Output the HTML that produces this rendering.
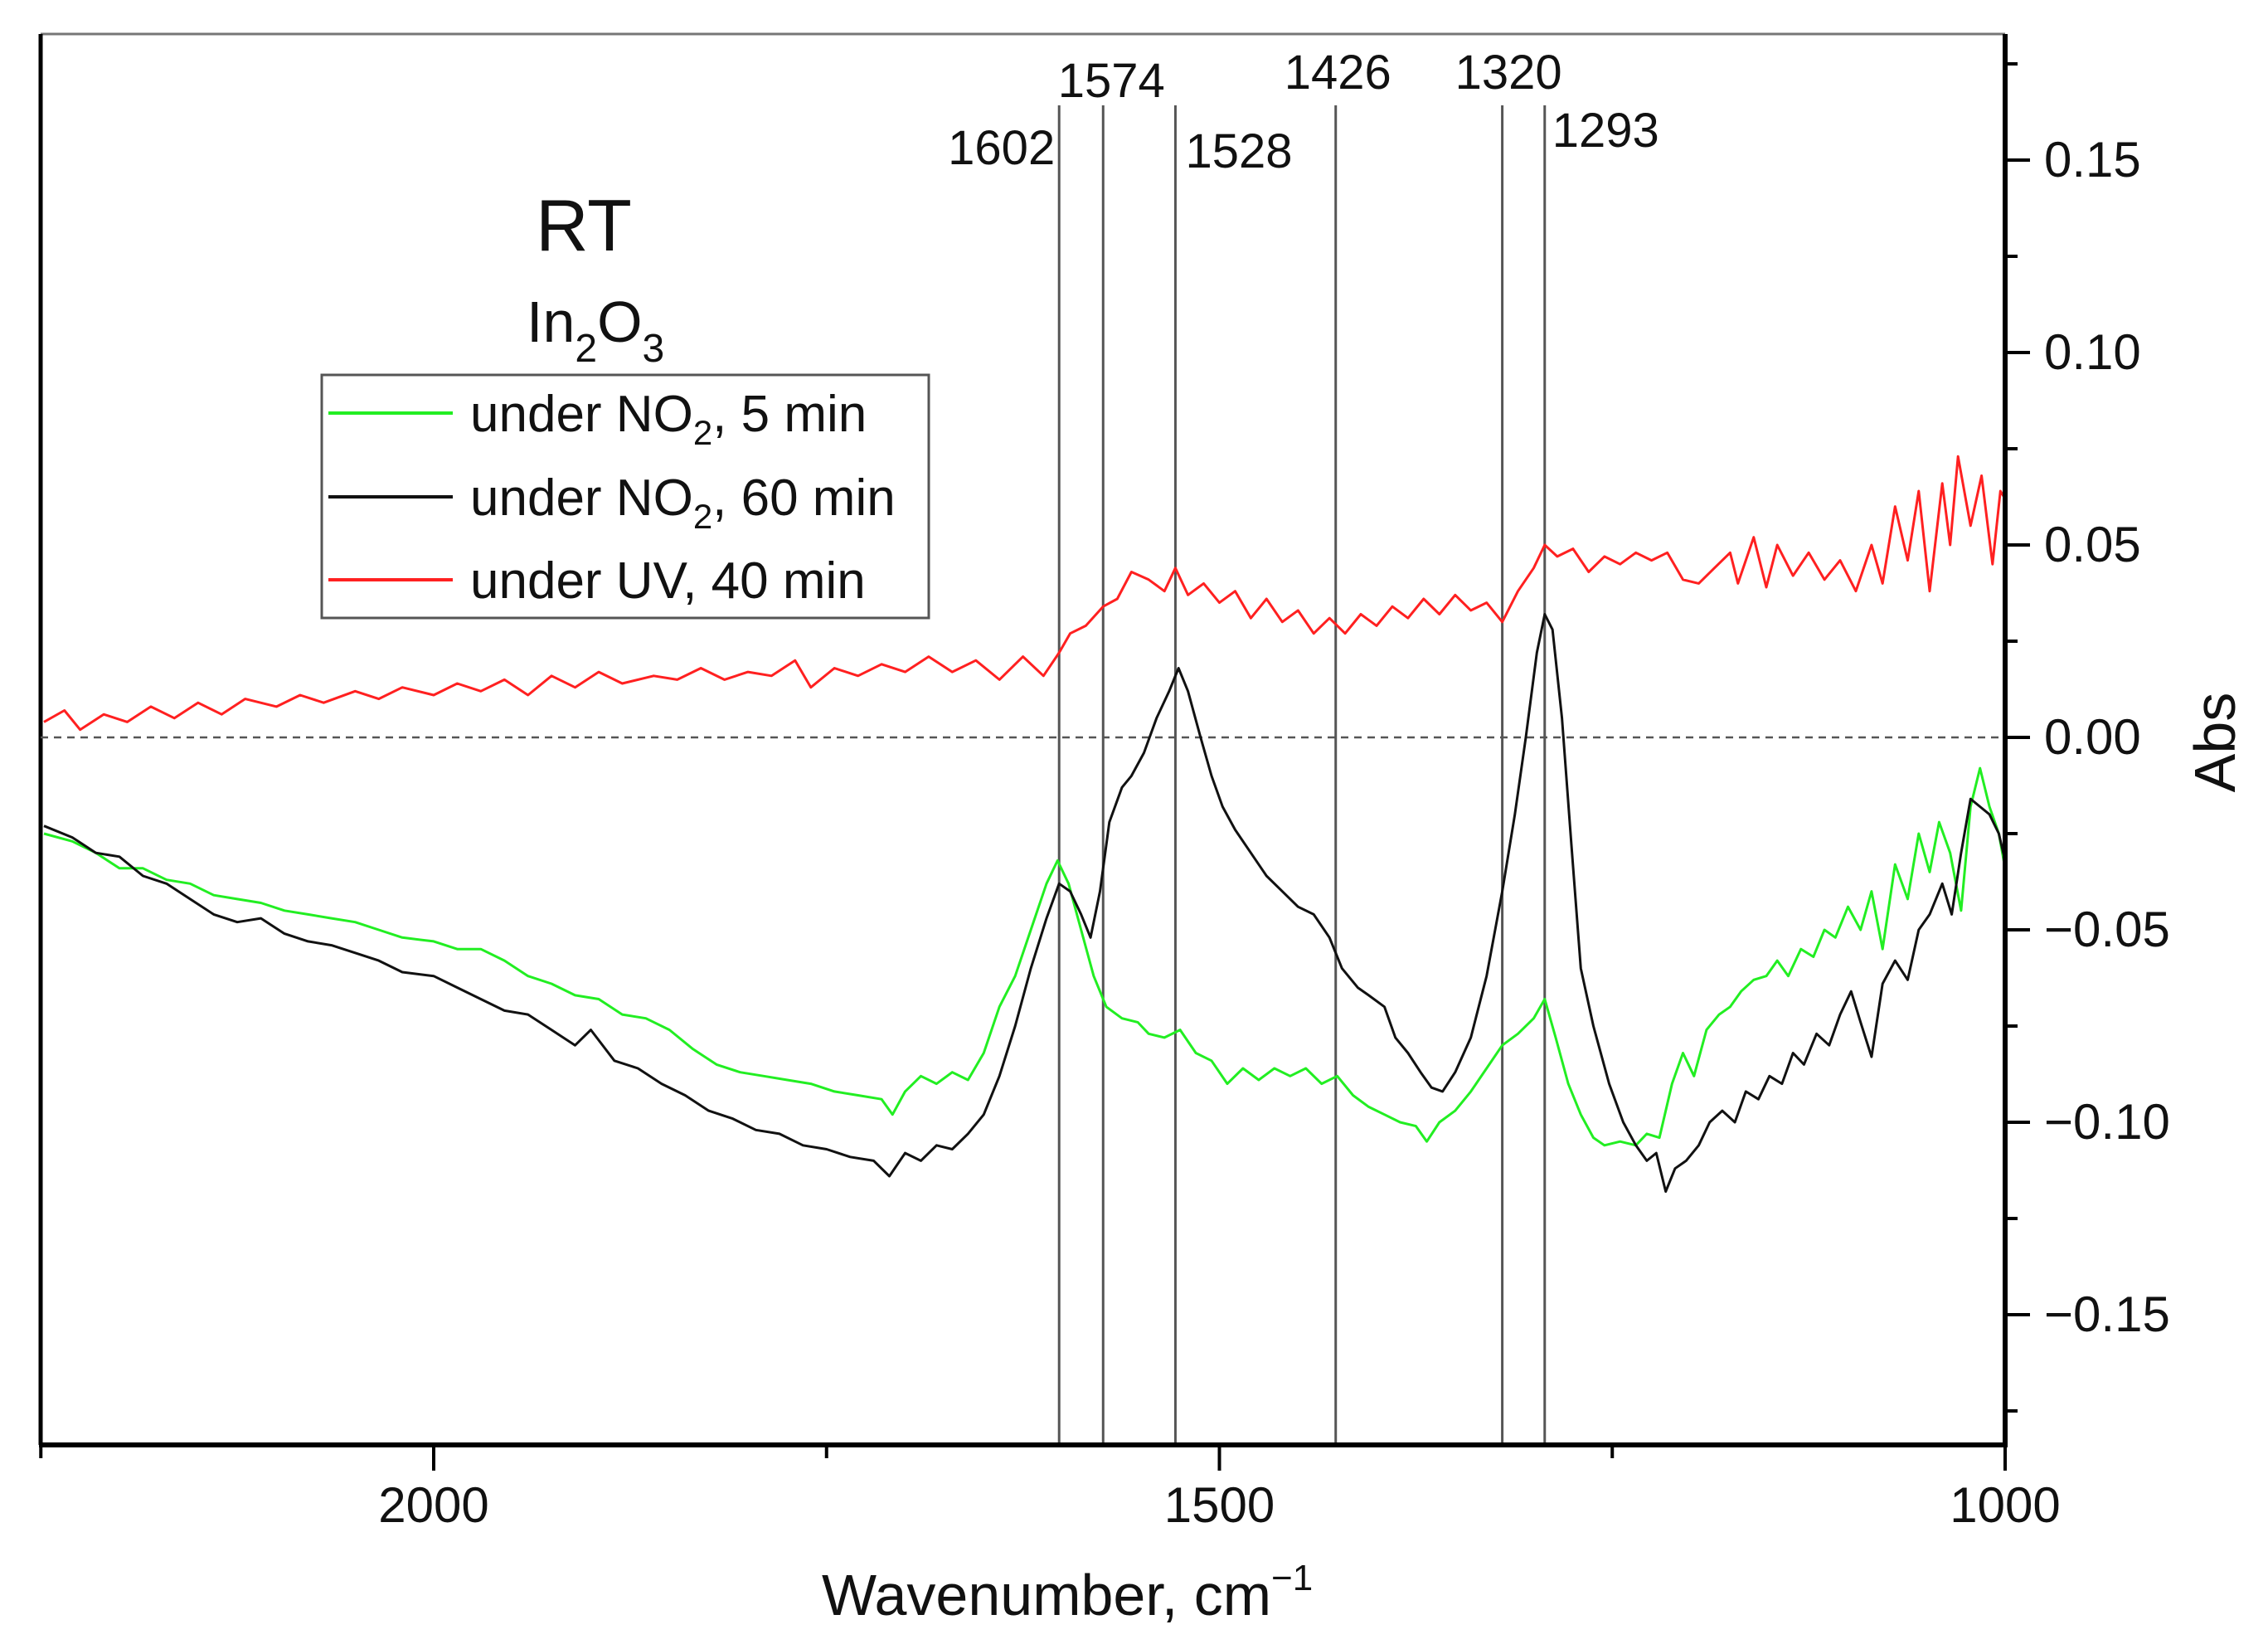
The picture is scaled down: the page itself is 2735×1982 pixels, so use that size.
<!DOCTYPE html>
<html><head><meta charset="utf-8"><style>
html,body{margin:0;padding:0;background:#fff;}
svg{display:block;font-family:"Liberation Sans",Arial,sans-serif;}
</style></head><body>
<svg id="chart" width="2735" height="1982" viewBox="0 0 2735 1982" xmlns="http://www.w3.org/2000/svg">
<rect x="0" y="0" width="2735" height="1982" fill="#fff"/>
<g id="plot"></g>
</svg>
<script>
// ---- data ----
const redWn=[2248,2235,2225,2210,2195,2180,2165,2150,2135,2120,2100,2085,2070,2050,2035,2020,2000,1985,1970,1955,1940,1925,1910,1895,1880,1860,1845,1830,1815,1800,1785,1770,1760,1745,1730,1715,1700,1685,1670,1655,1640,1625,1612,1602,1595,1585,1574,1565,1556,1545,1535,1528,1520,1510,1500,1490,1480,1470,1460,1450,1440,1430,1420,1410,1400,1390,1380,1370,1360,1350,1340,1330,1320,1310,1300,1293,1285,1275,1265,1255,1245,1235,1225,1215,1205,1195,1185,1175,1170,1160,1152,1145,1135,1125,1115,1105,1095,1085,1078,1070,1062,1055,1048,1040,1035,1030,1022,1015,1008,1003,1000];
const redAbs=[.004,.007,.002,.006,.004,.008,.005,.009,.006,.010,.008,.011,.009,.012,.010,.013,.011,.014,.012,.015,.011,.016,.013,.017,.014,.016,.015,.018,.015,.017,.016,.020,.013,.018,.016,.019,.017,.021,.017,.020,.015,.021,.016,.022,.027,.029,.034,.036,.043,.041,.038,.044,.037,.040,.035,.038,.031,.036,.030,.033,.027,.031,.027,.032,.029,.034,.031,.036,.032,.037,.033,.035,.030,.038,.044,.050,.047,.049,.043,.047,.045,.048,.046,.048,.041,.040,.044,.048,.040,.052,.039,.050,.042,.048,.041,.046,.038,.050,.040,.060,.046,.064,.038,.066,.050,.073,.055,.068,.045,.064,.062];
const blackWn=[2248,2230,2215,2200,2185,2170,2155,2140,2125,2110,2095,2080,2065,2050,2035,2020,2000,1985,1970,1955,1940,1925,1910,1900,1885,1870,1855,1840,1825,1810,1795,1780,1765,1750,1735,1720,1710,1700,1690,1680,1670,1660,1650,1640,1630,1620,1610,1602,1595,1588,1582,1576,1570,1562,1556,1548,1540,1532,1526,1520,1512,1505,1498,1490,1480,1470,1460,1450,1440,1430,1422,1412,1405,1395,1388,1380,1372,1365,1358,1350,1340,1330,1320,1312,1305,1298,1293,1288,1282,1276,1270,1262,1252,1243,1235,1228,1222,1216,1210,1203,1195,1188,1180,1172,1165,1157,1150,1142,1135,1128,1120,1112,1105,1098,1092,1085,1078,1070,1062,1055,1048,1040,1034,1028,1022,1016,1010,1004,1000];
const blackAbs=[-.023,-.026,-.030,-.031,-.036,-.038,-.042,-.046,-.048,-.047,-.051,-.053,-.054,-.056,-.058,-.061,-.062,-.065,-.068,-.071,-.072,-.076,-.080,-.076,-.084,-.086,-.090,-.093,-.097,-.099,-.102,-.103,-.106,-.107,-.109,-.110,-.114,-.108,-.110,-.106,-.107,-.103,-.098,-.088,-.075,-.060,-.047,-.038,-.040,-.046,-.052,-.040,-.022,-.013,-.010,-.004,.005,.012,.018,.012,.000,-.010,-.018,-.024,-.030,-.036,-.040,-.044,-.046,-.052,-.060,-.065,-.067,-.070,-.078,-.082,-.087,-.091,-.092,-.087,-.078,-.062,-.040,-.020,.000,.022,.032,.028,.005,-.028,-.060,-.075,-.090,-.100,-.106,-.110,-.108,-.118,-.112,-.110,-.106,-.100,-.097,-.100,-.092,-.094,-.088,-.090,-.082,-.085,-.077,-.080,-.072,-.066,-.074,-.083,-.064,-.058,-.063,-.050,-.046,-.038,-.046,-.030,-.016,-.018,-.020,-.025,-.032];
const greenWn=[2248,2230,2215,2200,2185,2170,2155,2140,2125,2110,2095,2080,2065,2050,2035,2020,2000,1985,1970,1955,1940,1925,1910,1895,1880,1865,1850,1835,1820,1805,1790,1775,1760,1745,1730,1715,1708,1700,1690,1680,1670,1660,1650,1640,1630,1620,1610,1603,1596,1588,1580,1572,1562,1552,1545,1535,1525,1515,1505,1495,1485,1475,1465,1455,1445,1435,1425,1415,1405,1395,1385,1375,1368,1360,1350,1340,1330,1320,1310,1300,1293,1286,1278,1270,1262,1255,1245,1235,1228,1220,1212,1205,1198,1190,1182,1175,1168,1160,1152,1145,1138,1130,1122,1115,1108,1100,1092,1085,1078,1070,1062,1055,1048,1042,1035,1028,1022,1016,1010,1004,1000];
const greenAbs=[-.025,-.027,-.030,-.034,-.034,-.037,-.038,-.041,-.042,-.043,-.045,-.046,-.047,-.048,-.050,-.052,-.053,-.055,-.055,-.058,-.062,-.064,-.067,-.068,-.072,-.073,-.076,-.081,-.085,-.087,-.088,-.089,-.090,-.092,-.093,-.094,-.098,-.092,-.088,-.090,-.087,-.089,-.082,-.070,-.062,-.050,-.038,-.032,-.038,-.050,-.062,-.070,-.073,-.074,-.077,-.078,-.076,-.082,-.084,-.090,-.086,-.089,-.086,-.088,-.086,-.090,-.088,-.093,-.096,-.098,-.100,-.101,-.105,-.100,-.097,-.092,-.086,-.080,-.077,-.073,-.068,-.078,-.090,-.098,-.104,-.106,-.105,-.106,-.103,-.104,-.090,-.082,-.088,-.076,-.072,-.070,-.066,-.063,-.062,-.058,-.062,-.055,-.057,-.050,-.052,-.044,-.050,-.040,-.055,-.033,-.042,-.025,-.035,-.022,-.030,-.045,-.018,-.008,-.018,-.025,-.034];
const peakWn=[1602,1574,1528,1426,1320,1293];
const peakLabels=["1602","1574","1528","1426","1320","1293"];
const yTickVals=[0.15,0.10,0.05,0.00,-0.05,-0.10,-0.15];
const yTickLabels=["0.15","0.10","0.05","0.00","\u22120.05","\u22120.10","\u22120.15"];
const xTickVals=[2000,1500,1000];
const xTickLabels=["2000","1500","1000"];
const xMinorVals=[2250,1750,1250];

// ---- layout ----
const L=49,R=2418,T=41,B=1742;
const X=w=>R-(w-1000)*1.895;
const Y=v=>889-v*4640;
const NS="http://www.w3.org/2000/svg";
const g=document.getElementById('plot');
function mk(tag,attrs,parent){const e=document.createElementNS(NS,tag);for(const k in attrs)e.setAttribute(k,attrs[k]);(parent||g).appendChild(e);return e;}

// frame
let e=mk('line',{x1:L,y1:T,x2:R,y2:T,stroke:'#777','stroke-width':3});


e=mk('line',{x1:L,y1:T,x2:L,y2:B,stroke:'#000','stroke-width':5});



// zero line
e=mk('line',{x1:L,y1:Y(0),x2:R,y2:Y(0),stroke:'#555','stroke-width':2.5,'stroke-dasharray':'9,7'});



// peak lines & labels
const lblPos=[{dx:-5,y:198,a:'end'},{dx:10,y:117,a:'middle'},{dx:12,y:202,a:'start'},{dx:-62,y:107,a:'start'},{dx:-57,y:107,a:'start'},{dx:9,y:177,a:'start'}];
peakWn.forEach((w,i)=>{
  const l=mk('line',{x1:X(w),y1:127,x2:X(w),y2:B,stroke:'#555','stroke-width':3});
  
  
  const t=mk('text',{x:X(w)+lblPos[i].dx,y:lblPos[i].y,'font-size':58,'text-anchor':lblPos[i].a,fill:'#111'});
  t.textContent=peakLabels[i];
  
  
});

// series
function series(wn,vals,color,name){
  const d=wn.map((w,i)=>(i?'L':'M')+X(w).toFixed(1)+','+Y(vals[i]).toFixed(1)).join(' ');
  const p=mk('path',{d:d,fill:'none',stroke:color,'stroke-width':3,'stroke-linejoin':'round'});
  
  
}
series(redWn,redAbs,'#ff2020','series-uv-40min');
series(greenWn,greenAbs,'#22ee22','series-no2-5min');
series(blackWn,blackAbs,'#111','series-no2-60min');

// axes
e=mk('line',{x1:R,y1:T,x2:R,y2:B+3,stroke:'#000','stroke-width':6});


e=mk('line',{x1:L-2,y1:B,x2:R+3,y2:B,stroke:'#000','stroke-width':6});



yTickVals.forEach((v,i)=>{
  const t=mk('line',{x1:R,y1:Y(v),x2:R+30,y2:Y(v),stroke:'#000','stroke-width':4});
  
  
  const m=mk('line',{x1:R,y1:Y(v-0.025),x2:R+15,y2:Y(v-0.025),stroke:'#000','stroke-width':4});
  
  
  const lab=mk('text',{x:R+47,y:Y(v)+20,'font-size':60,fill:'#111'});
  lab.textContent=yTickLabels[i];
  
  
});
e=mk('line',{x1:R,y1:Y(0.175),x2:R+15,y2:Y(0.175),stroke:'#000','stroke-width':4});



xTickVals.forEach((w,i)=>{
  const t=mk('line',{x1:X(w),y1:B,x2:X(w),y2:B+31,stroke:'#000','stroke-width':4});
  
  
  const lab=mk('text',{x:X(w),y:1835,'font-size':60,'text-anchor':'middle',fill:'#111'});
  lab.textContent=xTickLabels[i];
  
  
});
xMinorVals.forEach(w=>{
  const m=mk('line',{x1:X(w),y1:B,x2:X(w),y2:B+16,stroke:'#000','stroke-width':4});
  
  
});

// axis titles
e=mk('text',{x:991,y:1947,'font-size':70,fill:'#111'});
e.innerHTML='Wavenumber, cm<tspan dy="-30" font-size="44">\u22121</tspan>';


e=mk('text',{x:0,y:0,'font-size':70,'text-anchor':'middle',fill:'#111',transform:'translate(2695,895) rotate(-90)'});
e.textContent='Abs';



// annotations
e=mk('text',{x:704,y:302,'font-size':88,'text-anchor':'middle',fill:'#111'});
e.textContent='RT';


e=mk('text',{x:635,y:412,'font-size':70,fill:'#111'});
e.innerHTML='In<tspan dy="24" font-size="48">2</tspan><tspan dy="-24">O</tspan><tspan dy="24" font-size="48">3</tspan>';



// legend
const lg=mk('g',{});


e=mk('rect',{x:388,y:452,width:732,height:293,fill:'#fff',stroke:'#555','stroke-width':3},lg);


const legColors=['#22ee22','#111','#ff2020'];
const legHtml=['under NO<tspan dy="16" font-size="42">2</tspan><tspan dy="-16">, 5 min</tspan>','under NO<tspan dy="16" font-size="42">2</tspan><tspan dy="-16">, 60 min</tspan>','under UV, 40 min'];
const legY=[498,599,699];
legY.forEach((y,i)=>{
  const l=mk('line',{x1:396,y1:y,x2:546,y2:y,stroke:legColors[i],'stroke-width':4},lg);
  
  
  const t=mk('text',{x:567,y:y+22,'font-size':62,fill:'#111'},lg);
  t.innerHTML=legHtml[i];
  
  
});
</script>
</body></html>
